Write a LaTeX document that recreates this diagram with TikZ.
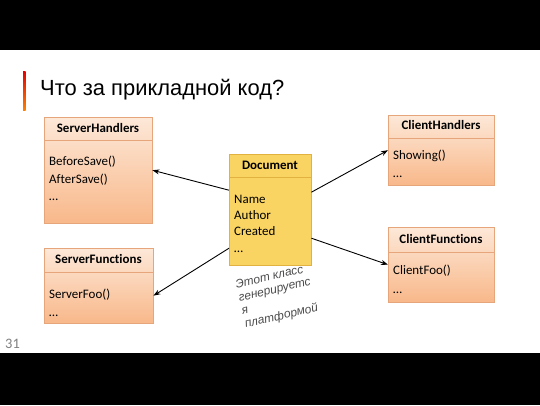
\documentclass[tikz,border=0pt]{standalone}
\usepackage{fontspec}
\setmainfont{Carlito}[Ligatures=NoCommon]
\newfontfamily\titlefont{Liberation Sans}
\usetikzlibrary{arrows.meta}

\definecolor{peachtop}{HTML}{FDE8D8}
\definecolor{peachbot}{HTML}{F8B88A}
\definecolor{peachline}{HTML}{E6A57A}
\definecolor{docfill}{HTML}{F9D462}
\definecolor{docline}{HTML}{E2B240}
\definecolor{pagegray}{HTML}{7F7F7F}

\begin{document}
\begin{tikzpicture}[x=1bp,y=-1bp,
    cls/.style = {draw=peachline, top color=peachtop, bottom color=peachbot,
                  anchor=north west, inner sep=0},
    doccls/.style = {draw=docline, fill=docfill, anchor=north west, inner sep=0},
    head/.style = {font=\fontsize{13}{15}\selectfont\bfseries},
    body/.style = {font=\fontsize{13}{17.5}\selectfont, align=left,
                   anchor=north west, inner sep=0},
    arr/.style = {-{Stealth[length=7bp,width=5bp]}, line width=0.9bp}]
    \useasboundingbox (0,0) rectangle (540,405);
    % black bands
    \fill[black] (0,0) rectangle (540,50);
    \fill[black] (0,353) rectangle (540,405);
    % title
    \shade[top color=red!90!black, bottom color=orange] (23,71) rectangle (25.5,110);
    \node[anchor=base west, inner sep=0, font=\titlefont\fontsize{22}{24}\selectfont] (title) at (40,95) {Что за прикладной код?};
    \node[anchor=base west, inner sep=0, text=pagegray, font=\fontsize{14.5}{16}\selectfont] (page) at (5,348) {31};

    % class boxes
    \node at (44,117)  [cls, minimum width=108bp, minimum height=106bp] (sh) {};
    \node at (44,248)  [cls, minimum width=109bp, minimum height=75bp] (sf) {};
    \node at (229,154) [doccls, minimum width=82bp, minimum height=111bp] (doc) {};
    \node at (388,115) [cls, minimum width=106bp, minimum height=70bp] (ch) {};
    \node at (388,227) [cls, minimum width=106bp, minimum height=75bp] (cf) {};
    \draw[peachline] (sh.west |- 0,140) -- (sh.east |- 0,140);
    \draw[peachline] (sf.west |- 0,272) -- (sf.east |- 0,272);
    \draw[docline] (doc.west |- 0,177) -- (doc.east |- 0,177);
    \draw[peachline] (ch.west |- 0,138) -- (ch.east |- 0,138);
    \draw[peachline] (cf.west |- 0,252) -- (cf.east |- 0,252);

    % headers
    \node at (98,128)  [head] (sh-head) {ServerHandlers};
    \node at (98.5,259) [head] (sf-head) {ServerFunctions};
    \node at (270,165) [head] (doc-head) {Document};
    \node at (441,125) [head] (ch-head) {ClientHandlers};
    \node at (441,239) [head] (cf-head) {ClientFunctions};

    % members
    \node at (49,156)  [body] (sh-body) {BeforeSave()\\AfterSave()\\\dots};
    \node at (49,289)  [body] (sf-body) {ServerFoo()\\\dots};
    \node at (234,195) [body, font=\fontsize{13}{16.3}\selectfont] (doc-body) {Name\\Author\\Created\\\dots};
    \node at (393,150) [body] (ch-body) {Showing()\\\dots};
    \node at (393,265) [body, font=\fontsize{13}{19}\selectfont] (cf-body) {ClientFoo()\\\dots};

    % note
    \node at (234.5,280) [anchor=north west, inner sep=0, rotate=13, align=left,
        text=black!70, font=\titlefont\itshape\fontsize{12}{13.6}\selectfont] (note)
        {Этот класс\\генерируетс\\я\\платформой};

    % links
    \draw[arr] ([yshift=19.5bp]doc.west) -- (sh.east);
    \draw[arr] ([yshift=-38.5bp]doc.west) -- ([yshift=-10bp]sf.east);
    \draw[arr] ([yshift=17.5bp]doc.east) -- (ch.west);
    \draw[arr] ([yshift=-28.5bp]doc.east) -- (cf.west);
\end{tikzpicture}
\end{document}
